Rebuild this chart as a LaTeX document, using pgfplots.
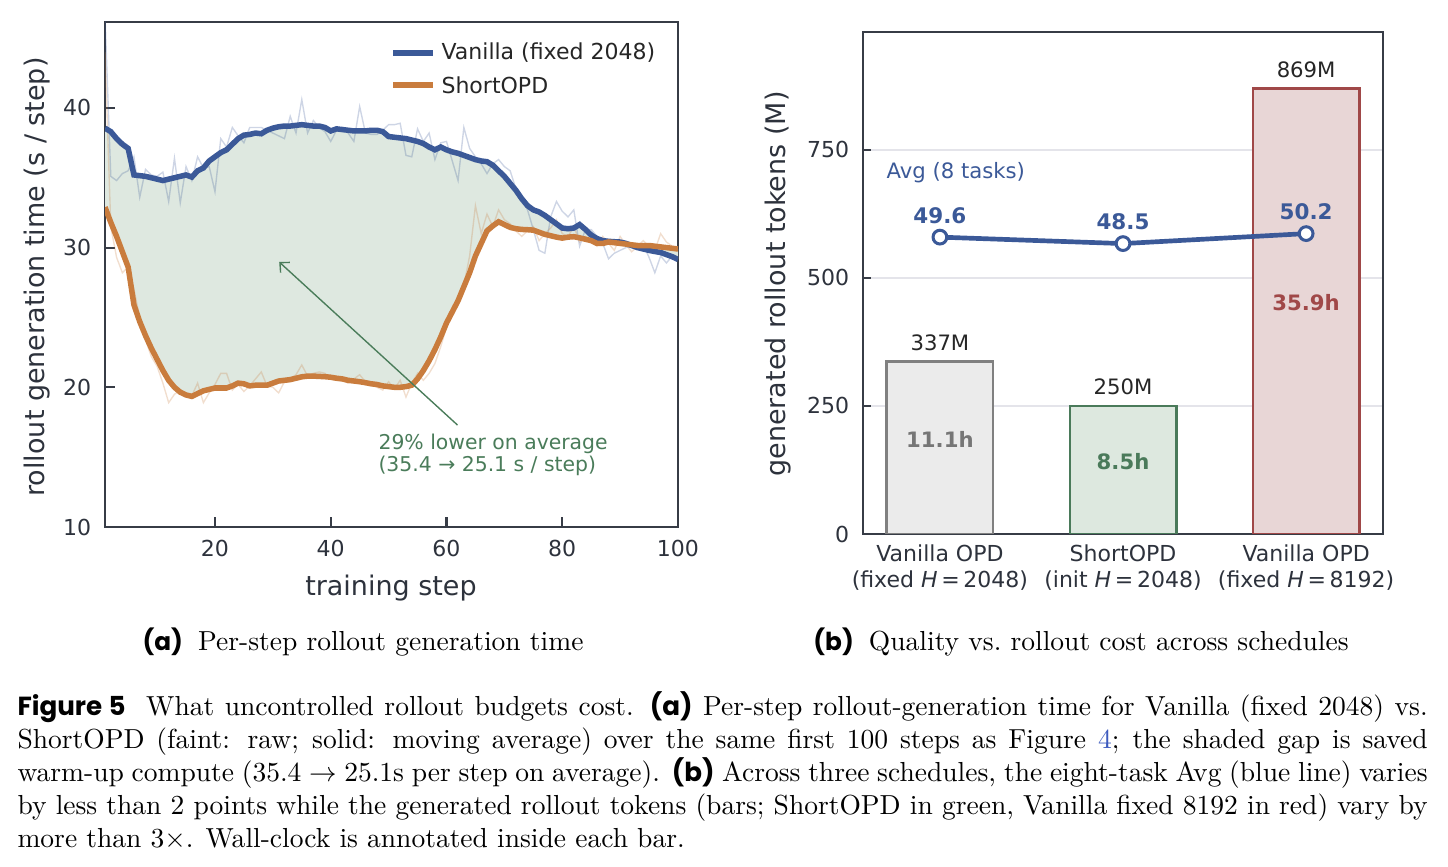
\documentclass[border=0pt]{standalone}
\usepackage{fontspec}
\usepackage{pgfplots}
\pgfplotsset{compat=1.18}
\usepackage{pgfplotstable}
\usepgfplotslibrary{fillbetween}
\usetikzlibrary{arrows.meta}

\newfontfamily\dejavu{DejaVu Sans}
\newfontfamily\capsans[Scale=0.9]{Poppins}
\newfontfamily\figsans[Scale=0.95]{Poppins}

\definecolor{vanblue}{RGB}{59,89,152}
\definecolor{shortorange}{RGB}{201,124,61}
\definecolor{gapfill}{RGB}{222,232,224}
\definecolor{annogreen}{RGB}{74,124,90}
\definecolor{axisgray}{RGB}{55,60,70}
\definecolor{ticktext}{RGB}{45,50,60}
\definecolor{gridgray}{RGB}{228,228,234}
\definecolor{barAfill}{RGB}{235,235,235}
\definecolor{barAedge}{RGB}{128,128,128}
\definecolor{barAtext}{RGB}{118,118,118}
\definecolor{barBfill}{RGB}{221,232,223}
\definecolor{barBedge}{RGB}{74,122,90}
\definecolor{barCfill}{RGB}{232,214,214}
\definecolor{barCedge}{RGB}{160,72,72}
\definecolor{linkblue}{RGB}{60,90,190}

% per-step rollout time: moving averages and raw values
\pgfplotstableread{
step van short vanraw shortraw
1 38.55 32.9 46.5 44.0
2 38.3 31.8 35.1 31.5
3 37.8 30.8 34.8 29.3
4 37.4 29.7 35.3 28.2
5 37.1 28.6 35.5 28.6
6 35.2 25.9 36.5 27.0
7 35.15 24.7 33.6 25.0
8 35.1 23.7 35.6 23.4
9 35.0 22.8 35.2 22.2
10 34.9 22.0 35.1 21.5
11 34.8 21.2 35.4 20.3
12 34.9 20.5 33.3 18.9
13 35.0 20.0 36.4 19.5
14 35.1 19.65 33.2 19.8
15 35.2 19.45 35.8 19.6
16 35.05 19.35 34.8 19.4
17 35.5 19.55 36.5 20.3
18 35.7 19.75 35.7 18.9
19 36.2 19.85 35.8 19.6
20 36.5 19.95 34.0 20.2
21 36.8 19.95 37.8 21.0
22 37.0 19.95 37.2 21.0
23 37.4 20.1 38.6 19.8
24 37.8 20.3 38.0 20.2
25 38.05 20.25 37.5 19.7
26 38.1 20.1 38.6 20.1
27 38.2 20.15 38.6 20.6
28 38.15 20.15 38.6 21.1
29 38.4 20.15 38.4 20.1
30 38.55 20.3 38.2 20.0
31 38.65 20.45 38.0 19.6
32 38.7 20.5 37.8 20.4
33 38.7 20.55 39.4 20.6
34 38.75 20.65 38.2 20.9
35 38.8 20.75 40.6 21.6
36 38.75 20.8 38.2 20.8
37 38.7 20.8 39.1 21.0
38 38.7 20.78 38.6 21.1
39 38.6 20.76 38.3 21.0
40 38.35 20.72 37.6 20.6
41 38.5 20.65 38.4 20.5
42 38.45 20.6 38.6 20.5
43 38.4 20.5 38.2 20.3
44 38.35 20.45 37.6 20.6
45 38.35 20.4 40.1 20.9
46 38.35 20.33 38.2 20.4
47 38.4 20.25 38.1 20.2
48 38.4 20.2 38.1 20.0
49 38.3 20.1 38.4 19.8
50 37.95 20.05 38.8 20.4
51 37.9 20.0 38.8 19.9
52 37.85 20.0 38.9 20.5
53 37.8 20.05 36.6 19.3
54 37.7 20.15 36.5 20.3
55 37.6 20.6 38.5 21.0
56 37.45 21.2 37.6 20.5
57 37.2 21.9 38.2 21.0
58 37.0 22.7 36.3 21.7
59 37.2 23.6 37.5 22.9
60 37.0 24.6 37.6 24.3
61 36.85 25.4 36.2 25.5
62 36.75 26.2 34.8 26.5
63 36.6 27.2 38.6 27.3
64 36.45 28.2 37.1 29.4
65 36.3 29.4 36.5 33.0
66 36.2 30.3 36.0 31.0
67 36.15 31.2 35.3 32.4
68 35.9 31.55 36.0 31.5
69 35.5 31.85 36.3 32.7
70 35.1 31.65 35.8 32.0
71 34.6 31.45 35.5 31.7
72 34.1 31.35 34.2 31.2
73 33.5 31.3 33.6 30.8
74 33.0 31.28 32.7 31.2
75 32.7 31.25 31.3 31.5
76 32.55 31.1 29.8 30.5
77 32.3 30.95 29.6 31.0
78 32.0 30.85 32.2 31.4
79 31.7 30.75 33.3 32.0
80 31.4 30.68 32.6 31.0
81 31.35 30.75 32.2 30.8
82 31.4 30.78 32.7 31.5
83 31.65 30.7 30.1 30.4
84 31.3 30.6 31.3 30.8
85 30.9 30.5 31.3 30.5
86 30.65 30.3 30.8 30.1
87 30.5 30.3 30.3 30.8
88 30.45 30.4 29.2 30.3
89 30.42 30.35 29.6 29.8
90 30.4 30.3 29.8 30.8
91 30.3 30.25 30.0 30.2
92 30.15 30.2 30.1 29.7
93 30.0 30.15 30.2 30.1
94 29.9 30.15 30.2 30.5
95 29.8 30.15 29.3 30.1
96 29.72 30.1 28.2 29.8
97 29.65 30.05 29.4 31.0
98 29.5 30.0 28.9 30.4
99 29.35 29.95 29.4 30.1
100 29.15 29.9 29.0 29.7
}\steptable

\begin{document}
\begin{tikzpicture}
% page frame
\path (0,0) rectangle (526.06pt,-314.98pt);

% ---------- (a) per-step rollout generation time ----------
\begin{axis}[
  at={(38.15pt,-191.46pt)}, anchor=south west,
  scale only axis, width=208.17pt, height=183.47pt,
  xmin=1, xmax=100, ymin=10, ymax=46.15,
  xtick={20,40,60,80,100}, ytick={10,20,30,40},
  tick align=inside, xtick pos=bottom, ytick pos=left,
  major tick length=3.6pt,
  axis line style={axisgray, line width=0.75pt},
  tick style={axisgray, line width=0.75pt},
  ticklabel style={font=\dejavu\fontsize{8}{9.6}\selectfont, text=ticktext},
  /pgf/number format/assume math mode=true,
  xticklabel style={yshift=-1.4pt},
  yticklabel style={xshift=-1.5pt},
]
\addplot[draw=none, name path=vanpath, forget plot] table[x=step, y=van] {\steptable};
\addplot[draw=none, name path=shortpath, forget plot] table[x=step, y=short] {\steptable};
\addplot[fill=gapfill, draw=none, forget plot] fill between[of=vanpath and shortpath];
\addplot[vanblue, opacity=0.25, line width=0.5pt, forget plot] table[x=step, y=vanraw] {\steptable};
\addplot[shortorange, opacity=0.25, line width=0.5pt, forget plot] table[x=step, y=shortraw] {\steptable};
\addplot[vanblue, line width=2pt] table[x=step, y=van] {\steptable};
\addplot[shortorange, line width=2pt] table[x=step, y=short] {\steptable};
\draw[annogreen, line width=0.5pt, -{Straight Barb[length=2.6pt, width=5pt]}]
  (axis cs:61.9,17.3) -- (axis cs:31.1,28.97);
\end{axis}

% ---------- (b) rollout tokens and quality ----------
\begin{axis}[
  at={(313.53pt,-194.00pt)}, anchor=south west,
  scale only axis, width=188.92pt, height=182.38pt,
  xmin=-0.42, xmax=2.42, ymin=0, ymax=980,
  xtick={0,1,2}, ytick={0,250,500,750},
  xticklabels={{Vanilla OPD\\(fixed {\itshape H}\,=\,2048)},
               {ShortOPD\\(init {\itshape H}\,=\,2048)},
               {Vanilla OPD\\(fixed {\itshape H}\,=\,8192)}},
  xticklabel style={align=center, yshift=-0.4pt},
  tick align=inside, ytick pos=left,
  xtick style={draw=none},
  major tick length=2.9pt,
  axis line style={axisgray, line width=0.75pt},
  ytick style={axisgray, line width=0.75pt},
  ymajorgrids, grid style={gridgray, line width=0.6pt},
  ticklabel style={font=\dejavu\fontsize{8}{9.3}\selectfont, text=ticktext},
  yticklabel style={xshift=-1.5pt},
  /pgf/number format/assume math mode=true,
]
\addplot[ybar, bar width=0.58, bar shift=0pt, fill=barAfill, draw=barAedge, line width=1pt] coordinates {(0,337)};
\addplot[ybar, bar width=0.58, bar shift=0pt, fill=barBfill, draw=barBedge, line width=1pt] coordinates {(1,250)};
\addplot[ybar, bar width=0.58, bar shift=0pt, fill=barCfill, draw=barCedge, line width=1pt] coordinates {(2,869)};
\begin{scope}[every node/.style={font=\dejavu\fontsize{7.7}{9}\selectfont}]
\node[text=black!85] at (axis cs:0,373) {337M};
\node[text=black!85] at (axis cs:1,287) {250M};
\node[text=black!85] at (axis cs:2,906) {869M};
\node[text=barAtext, font=\dejavu\bfseries\fontsize{7.7}{9}\selectfont] at (axis cs:0,184) {11.1h};
\node[text=barBedge, font=\dejavu\bfseries\fontsize{7.7}{9}\selectfont] at (axis cs:1,141) {8.5h};
\node[text=barCedge, font=\dejavu\bfseries\fontsize{7.7}{9}\selectfont] at (axis cs:2,451) {35.9h};
\end{scope}
\end{axis}

% eight-task average on its own scale
\begin{axis}[
  at={(313.53pt,-194.00pt)}, anchor=south west,
  scale only axis, width=188.92pt, height=182.38pt,
  xmin=-0.42, xmax=2.42, ymin=-0.9, ymax=84.5,
  hide axis, clip=false,
]
\addplot[vanblue, line width=1.7pt, mark=*, mark size=2.5pt,
  mark options={fill=white, draw=vanblue, line width=1.1pt}]
  coordinates {(0,49.6) (1,48.5) (2,50.2)};
\begin{scope}[every node/.style={text=vanblue, font=\dejavu\bfseries\fontsize{7.8}{9}\selectfont, yshift=7.8pt}]
\node at (axis cs:0,49.6) {49.6};
\node at (axis cs:1,48.5) {48.5};
\node at (axis cs:2,50.2) {50.2};
\end{scope}
\end{axis}

% ---------- labels, legend and captions ----------
\begin{scope}[x=0.3633pt, y=-0.3633pt]
\node[rotate=90, text=ticktext, font=\dejavu\fontsize{9.8}{11}\selectfont] at (37,277) {rollout generation time (s / step)};
\node[text=ticktext, font=\dejavu\fontsize{9.8}{11}\selectfont] at (391,588) {training step};
\node[rotate=90, text=ticktext, font=\dejavu\fontsize{9.8}{11}\selectfont] at (778,284) {generated rollout tokens (M)};

\draw[vanblue, line width=2pt] (393,53) -- (433,53);
\draw[shortorange, line width=2pt] (393,85) -- (433,85);
\node[anchor=west, inner sep=0pt, text=black!85, font=\dejavu\fontsize{8}{9.6}\selectfont] at (441,53) {Vanilla (fixed 2048)};
\node[anchor=west, inner sep=0pt, text=black!85, font=\dejavu\fontsize{8}{9.6}\selectfont] at (441,85) {ShortOPD};

\node[anchor=west, inner sep=0pt, align=left, text=annogreen, font=\dejavu\fontsize{7.4}{8}\selectfont] at (378,455) {29\% lower on average\\(35.4 → 25.1 s / step)};

\node[anchor=west, inner sep=0pt, text=vanblue, font=\dejavu\fontsize{7.7}{9}\selectfont] at (886,173) {Avg (8 tasks)};

\node[font=\fontsize{10}{12}\selectfont] at (363,642) {{\capsans\bfseries (a)}\hspace{0.55em}Per-step rollout generation time};
\node[font=\fontsize{10}{12}\selectfont] at (1081,642) {{\capsans\bfseries (b)}\hspace{0.55em}Quality vs.\ rollout cost across schedules};

\node[anchor=north west, inner sep=0pt, text width=512.3pt, align=justify, font=\fontsize{10}{12}\selectfont] at (17,691)
{{\figsans\bfseries Figure 5}\hspace{0.75em}What uncontrolled rollout budgets cost. {\figsans\bfseries (a)} Per-step rollout-generation time for Vanilla (fixed 2048) vs.\ ShortOPD (faint: raw; solid: moving average) over the same first 100 steps as Figure~{\color{linkblue}4}; the shaded gap is saved warm-up compute ($35.4\rightarrow25.1$s per step on average). {\figsans\bfseries (b)} Across three schedules, the eight-task Avg (blue line) varies by less than 2 points while the generated rollout tokens (bars; ShortOPD in green, Vanilla fixed 8192 in red) vary by more than 3$\times$. Wall-clock is annotated inside each bar.};
\end{scope}
\end{tikzpicture}
\end{document}
